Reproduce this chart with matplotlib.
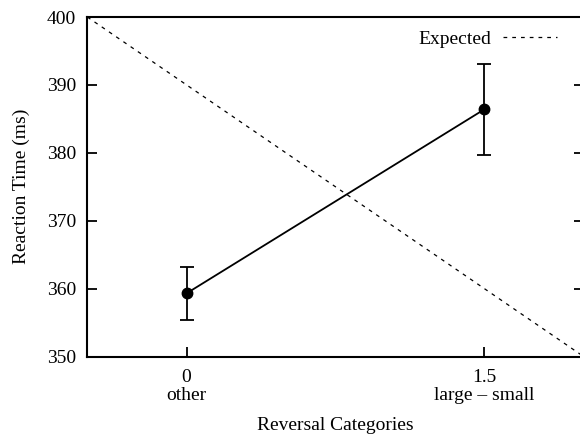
import matplotlib
matplotlib.use("Agg")
import matplotlib.pyplot as plt

# Reaction time per reversal category
categories = [0.0, 1.5]
category_names = ["other", "large \u2013 small"]
mean_rt = [359.3, 386.4]
rt_err = [3.9, 6.7]

# Expected trend line (endpoints)
expected_x = [-0.5, 2.0]
expected_y = [400, 350]

plt.rcParams["font.family"] = ["Liberation Serif", "DejaVu Serif"]
plt.rcParams["font.size"] = 14

fig = plt.figure(figsize=(5.8, 4.4), dpi=100)
ax = fig.add_axes([87.3 / 580, 1 - 356.5 / 440, (583.6 - 87.3) / 580, (356.5 - 17) / 440])

ax.plot(expected_x, expected_y, color="black", lw=0.9, ls=(0, (3, 4)), label="Expected")
ax.errorbar(categories, mean_rt, yerr=rt_err, color="black", lw=1.3, elinewidth=1.3,
            capsize=5, capthick=1.3, marker="o", markersize=7.5, clip_on=False)

ax.set_xlim(-0.5, 2.0)
ax.set_ylim(350, 400)
ax.set_yticks([350, 360, 370, 380, 390, 400])
ax.set_xticks(categories)
ax.set_xticklabels([f"{c:g}\n{n}" for c, n in zip(categories, category_names)],
                   linespacing=1.1)

ax.tick_params(axis="y", direction="in", length=7, width=1.3, pad=8, right=True)
ax.tick_params(axis="x", direction="in", length=7, width=1.3, pad=9)
for s in ax.spines.values():
    s.set_linewidth(1.5)

ax.set_ylabel("Reaction Time (ms)", labelpad=12)
ax.set_xlabel("Reversal Categories", labelpad=9)

leg = ax.legend(loc="upper right", frameon=False, markerfirst=False,
                handlelength=2.8, handletextpad=0.6, borderaxespad=0.3,
                bbox_to_anchor=(0.974, 1.0))

fig.savefig("out.png", dpi=100)
